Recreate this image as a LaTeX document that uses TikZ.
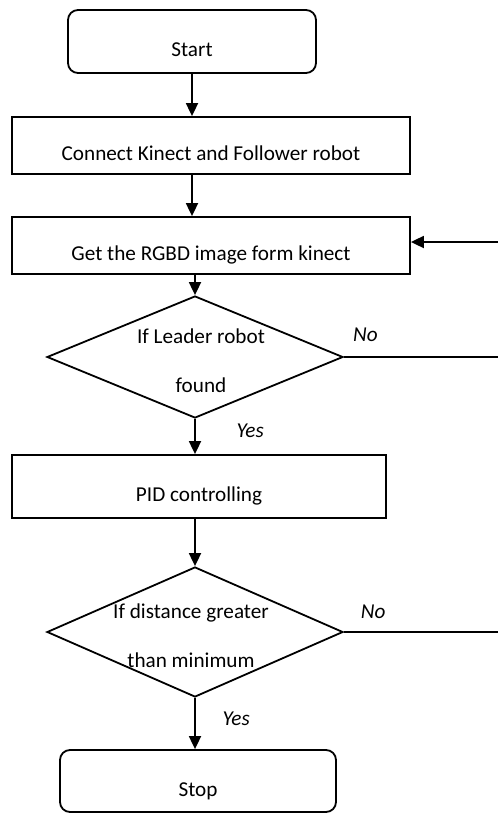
\documentclass[tikz,border=0pt]{standalone}
\usepackage{fontspec}
\setmainfont{Carlito}
\usetikzlibrary{shapes,arrows,arrows.meta}

\newcommand{\nowidth}[1]{\makebox[0pt]{#1}}

\begin{document}
\begin{tikzpicture}[auto, node distance=52pt, >={Triangle[width=6pt,length=6.5pt]}, line width=0.9pt, font=\fontsize{10.6}{12.7}\selectfont]
			\tikzset{
				startstop/.style={rectangle, rounded corners=5pt, minimum width=124pt, minimum height=31.5pt, text height=15pt, text depth=0pt, draw=black},
				process/.style={rectangle, minimum width=199pt, minimum height=28.5pt, text height=14.5pt, text depth=0pt, draw=black},
				decision/.style={diamond, minimum width=148pt, minimum height=61pt, inner sep=0pt, align=center, text height=35.5pt, text depth=0pt, draw=black},
				arrow/.style={->},
				answer/.style={font=\fontsize{10.6}{12.7}\selectfont\itshape},
			}
			\useasboundingbox (0,0) rectangle (249pt,-407pt);
			\node[startstop] (start) at (96pt,-20.75pt) {Start};
			\node[process, below of=start, xshift=9.5pt](connect){Connect Kinect and Follower robot};
			\node[process, below of=connect, yshift=2pt](getimage){Get the RGBD image form kinect};
			\node[decision, below of=getimage, xshift=-8pt, yshift=-3.75pt](leader){\nowidth{\hspace{6pt}If Leader robot}\\[12pt]\nowidth{\hspace{6pt}found}};
			\node[process, below of=leader, xshift=2pt, yshift=-12.75pt, minimum width=187pt, minimum height=31.5pt](pid){PID controlling};
			\node[decision, below of=pid, xshift=-2pt, yshift=-20.75pt, minimum height=65pt](distance){\nowidth{If distance greater\hspace{4pt}}\\[12pt]\nowidth{than minimum\hspace{4pt}}};
			\node[startstop, below of=distance, xshift=1.5pt, yshift=-22.5pt, minimum width=138pt, minimum height=31pt](stop){Stop};
			\coordinate (back) at (249pt,-121pt);
			%Draw arrows
			\draw[arrow] (start.south) -- (start.south |- connect.north);
			\draw[arrow] (connect.south -| start.south) -- (getimage.north -| start.south);
			\draw[arrow] (getimage.south -| leader.north) -- (leader.north);
			\draw[arrow] (back) -- (back -| getimage.east);
			\draw (leader.east) -- node[answer, pos=0.14, above=4pt] {No} (leader.east -| back);
			\draw[arrow] (leader.south) -- node[answer, pos=0.33, right=17pt] {Yes} (leader.south |- pid.north);
			\draw[arrow] (pid.south -| distance.north) -- (distance.north);
			\draw (distance.east) -- node[answer, pos=0.19, above=3pt] {No} (distance.east -| back);
			\draw[arrow] (distance.south) -- node[answer, pos=0.4, right=10pt] {Yes} (distance.south |- stop.north);
		\end{tikzpicture}
\end{document}
